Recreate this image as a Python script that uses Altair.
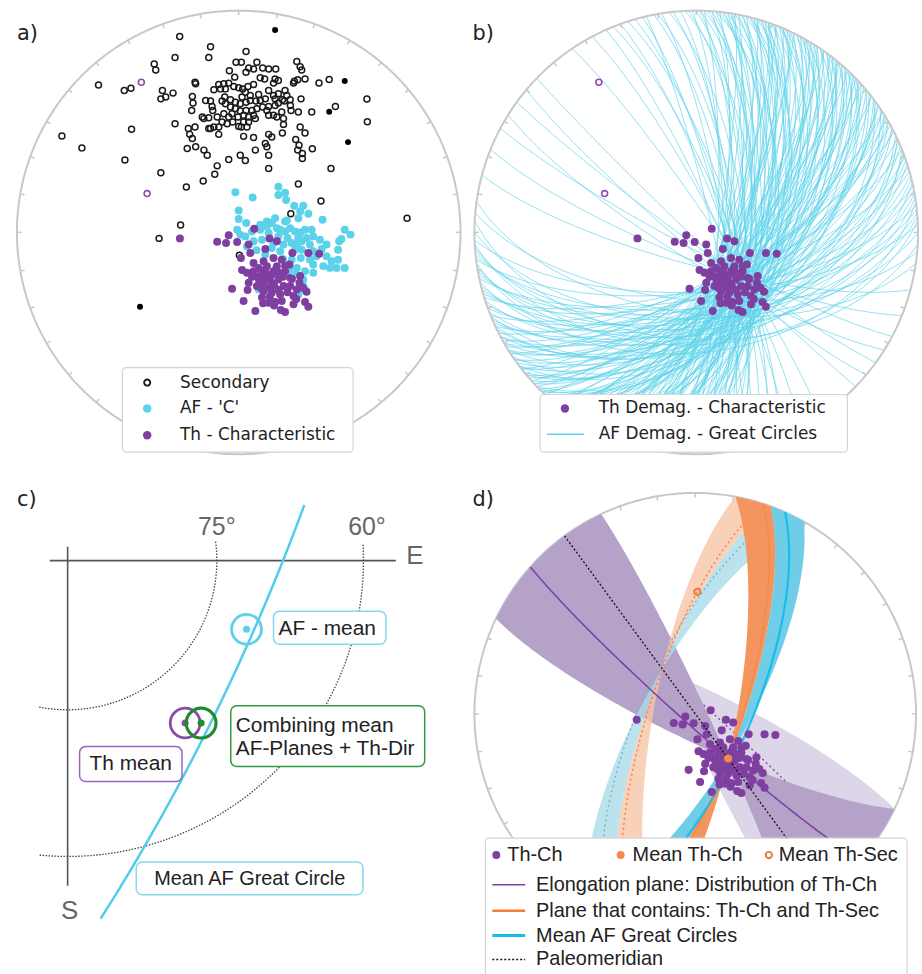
import numpy as np
import pandas as pd
import altair as alt

alt.data_transformers.disable_max_rows()

# ============================ DATA ============================
# Equal-area (Schmidt) net coordinates, unit primitive radius (x = East, y = North)

# a) Secondary directions, open symbols (upper hemisphere)
sec_open = [
    (-0.266, 0.883), (-0.127, 0.837), (-0.381, 0.759), (-0.374, 0.732), (-0.632, 0.665), (-0.516, 0.640),
    (-0.486, 0.650), (-0.797, 0.435), (-0.707, 0.381), (-0.513, 0.326), (-0.483, 0.465), (-0.351, 0.269),
    (-0.236, 0.205), (-0.160, 0.232), (-0.108, 0.262), (-0.097, 0.300), (-0.045, 0.329), (0.030, 0.324),
    (0.135, 0.288), (0.269, 0.218), (0.371, 0.142), (0.235, 0.084), (-0.359, -0.027), (-0.262, 0.033),
    (0.003, -0.103), (0.759, 0.064), (0.578, 0.601), (0.580, 0.499), (0.408, 0.689), (0.362, 0.674),
    (0.436, 0.568), (0.329, 0.543), (0.416, 0.288), (0.287, 0.333), (0.332, 0.377),
    (-0.287, 0.789), (-0.135, 0.789), (0.033, 0.816), (-0.012, 0.767), (0.012, 0.767), (0.082, 0.767),
    (0.045, 0.741), (0.033, 0.722), (0.067, 0.737), (0.108, 0.741), (0.135, 0.737), (0.167, 0.737),
    (0.262, 0.771), (0.277, 0.747), (0.284, 0.732), (-0.042, 0.729), (-0.018, 0.700), (0.097, 0.697),
    (0.117, 0.692), (0.164, 0.692), (0.157, 0.673), (0.179, 0.685), (0.251, 0.682), (0.266, 0.688),
    (0.247, 0.673), (0.299, 0.692), (-0.197, 0.677), (-0.194, 0.670), (-0.090, 0.667), (-0.067, 0.670),
    (-0.045, 0.673), (-0.112, 0.643), (-0.082, 0.647), (-0.060, 0.647), (-0.022, 0.658), (0.000, 0.652),
    (0.018, 0.647), (0.042, 0.658), (0.067, 0.667), (0.030, 0.632), (0.015, 0.610), (0.052, 0.617),
    (0.090, 0.622), (0.135, 0.640), (0.157, 0.617), (0.179, 0.625), (0.209, 0.640), (0.217, 0.617),
    (0.232, 0.598), (0.197, 0.598), (0.164, 0.602), (0.120, 0.602), (0.097, 0.595), (0.078, 0.592),
    (0.052, 0.595), (0.033, 0.587), (0.007, 0.580), (-0.015, 0.587), (-0.037, 0.598), (-0.063, 0.610),
    (-0.075, 0.592), (-0.060, 0.580), (-0.037, 0.565), (-0.015, 0.558), (0.007, 0.547), (0.033, 0.550),
    (0.060, 0.550), (0.082, 0.558), (0.108, 0.565), (0.135, 0.568), (0.164, 0.572), (0.179, 0.583),
    (0.206, 0.592), (0.233, 0.572), (0.281, 0.602), (-0.209, 0.613), (-0.206, 0.583), (-0.212, 0.550),
    (-0.149, 0.595), (-0.127, 0.592), (-0.120, 0.568), (-0.117, 0.550), (-0.164, 0.520), (-0.157, 0.513),
    (-0.135, 0.517), (-0.097, 0.520), (-0.067, 0.535), (-0.045, 0.520), (-0.030, 0.535), (-0.003, 0.520),
    (0.022, 0.528), (0.045, 0.520), (0.067, 0.528), (0.075, 0.513), (0.045, 0.498), (0.022, 0.498),
    (0.000, 0.478), (0.012, 0.475), (0.037, 0.475), (-0.027, 0.498), (-0.052, 0.490), (-0.075, 0.498),
    (-0.090, 0.475), (-0.112, 0.475), (-0.127, 0.468), (0.127, 0.550), (0.135, 0.528), (0.157, 0.528),
    (0.194, 0.543), (0.172, 0.520), (0.202, 0.513), (0.202, 0.487), (0.236, 0.550), (0.269, 0.543),
    (-0.287, 0.490), (-0.227, 0.468), (-0.197, 0.475), (-0.221, 0.442), (-0.209, 0.423), (-0.135, 0.468),
    (-0.090, 0.442), (0.022, 0.433), (0.067, 0.428), (0.135, 0.442), (0.149, 0.430), (0.197, 0.448),
    (0.277, 0.475), (0.299, 0.448), (0.120, 0.401), (0.127, 0.386), (0.257, 0.419), (0.272, 0.393),
    (-0.232, 0.378), (-0.194, 0.386), (-0.157, 0.371), (-0.142, 0.348), (0.007, 0.348), (0.075, 0.371),
    (0.135, 0.348), (0.266, 0.371), (0.287, 0.356), (-0.344, 0.640), (-0.329, 0.610), (-0.351, 0.602),
    (-0.296, 0.628),
]
# a) Secondary directions, filled symbols (lower hemisphere)
sec_lower = [(0.164, 0.913), (0.478, 0.683), (0.408, 0.544), (0.493, 0.407), (-0.445, -0.335)]

# a) AF - 'C' directions
af_c = [
    (-0.015, 0.181), (0.063, 0.157), (0.179, 0.206), (0.179, 0.169), (0.209, 0.179), (0.214, 0.146),
    (0.250, 0.120), (0.277, 0.094), (0.291, 0.120), (0.314, 0.084), (0.269, 0.064), (0.217, 0.054),
    (0.000, 0.099), (0.000, 0.060), (0.034, 0.042), (-0.007, 0.012), (0.007, -0.010), (0.030, -0.018),
    (0.060, 0.004), (0.097, 0.012), (0.127, 0.027), (0.149, 0.042), (0.172, 0.019), (0.187, 0.012),
    (0.209, 0.004), (0.232, 0.019), (0.254, 0.004), (0.277, 0.000), (0.299, 0.012), (0.329, 0.012),
    (0.336, -0.018), (0.306, -0.025), (0.284, -0.040), (0.262, -0.055), (0.239, -0.048), (0.220, -0.025),
    (0.202, -0.055), (0.254, -0.078), (0.284, -0.078), (0.321, -0.055), (0.366, -0.033), (0.396, -0.055),
    (0.374, -0.075), (0.336, -0.085), (0.280, -0.115), (0.321, -0.123), (0.336, -0.145), (0.381, -0.152),
    (0.411, -0.160), (0.441, -0.160), (0.478, -0.160), (0.448, -0.123), (0.448, -0.078), (0.453, -0.040),
    (0.463, -0.030), (0.478, 0.012), (0.504, -0.010), (0.378, 0.057), (0.336, -0.182), (0.299, -0.175),
    (0.291, -0.212), (0.269, -0.280), (0.262, -0.160), (0.239, -0.123), (0.067, -0.040), (0.105, -0.033),
    (0.037, -0.063), (0.149, -0.070), (0.187, -0.085), (0.299, -0.257), (0.090, -0.257), (0.291, -0.242),
    (0.209, 0.049), (0.164, 0.064), (0.127, 0.049), (0.097, 0.034), (0.135, -0.003), (0.157, -0.048),
    (0.179, -0.018), (0.269, -0.025), (0.351, -0.108), (0.396, -0.108), (0.419, -0.130), (0.200, -0.120),
    (0.230, -0.170), (0.260, -0.190), (0.120, -0.100), (0.080, -0.080),
]

# a, b, d) Th - Characteristic directions (lower hemisphere)
th_ch = [
    (-0.265, -0.027), (-0.097, -0.042), (-0.045, -0.013), (-0.057, -0.048), (-0.007, -0.043), (0.045, -0.055),
    (0.070, 0.016), (0.139, -0.027), (0.172, -0.040), (0.120, -0.075), (0.052, -0.093), (0.010, -0.115),
    (0.242, -0.093), (0.314, -0.093), (0.363, -0.096), (0.229, -0.145), (0.015, -0.170), (-0.030, -0.254),
    (0.022, -0.309), (0.075, -0.354), (0.135, -0.317), (0.164, -0.314), (0.209, -0.359), (0.247, -0.324),
    (0.299, -0.314), (0.314, -0.335), (0.306, -0.268), (0.262, -0.257), (0.274, -0.227), (0.232, -0.205),
    (0.209, -0.175), (0.157, -0.115), (0.112, -0.130), (0.067, -0.138), (0.037, -0.182), (0.045, -0.227),
    (0.082, -0.242), (0.112, -0.265), (0.149, -0.272), (0.187, -0.280), (0.202, -0.242), (0.179, -0.212),
    (0.142, -0.197), (0.105, -0.182), (0.075, -0.197), (0.127, -0.152), (0.172, -0.152), (0.194, -0.123),
    (0.149, -0.227), (0.112, -0.227), (0.232, -0.242), (0.247, -0.287), (0.277, -0.197), (0.105, -0.294),
    (0.194, -0.309), (0.067, -0.175), (0.179, -0.182), (0.135, -0.250), (0.157, -0.175), (0.090, -0.160),
    (0.209, -0.152), (0.120, -0.200), (0.160, -0.240), (0.130, -0.210), (0.150, -0.190), (0.180, -0.260),
    (0.100, -0.250), (0.140, -0.290), (0.200, -0.200), (0.090, -0.210), (0.170, -0.160), (0.120, -0.170),
    (0.220, -0.270), (0.060, -0.200), (0.240, -0.210), (0.110, -0.320), (0.160, -0.330), (0.260, -0.300),
    (0.290, -0.250), (0.040, -0.260), (0.190, -0.350),
]
# a, b) Th directions on the upper hemisphere (open purple)
th_upper = [(-0.439, 0.677), (-0.413, 0.175)]

# b) AF demagnetisation great circles: (strike, dip), right-hand rule
great_circles = [
    (0, 72), (2, 66), (4, 78), (5, 60), (7, 70), (8, 74), (10, 64), (11, 80), (12, 68), (14, 58), (15, 72),
    (16, 76), (18, 62), (19, 70), (20, 66), (21, 74), (22, 56), (23, 68), (24, 72), (25, 62), (26, 78),
    (27, 65), (28, 70), (29, 58), (30, 68), (31, 74), (32, 62), (33, 66), (34, 54), (35, 70), (36, 64),
    (37, 72), (38, 60), (39, 67), (40, 56), (41, 70), (42, 63), (43, 75), (44, 58), (45, 66), (46, 52),
    (47, 69), (48, 61), (50, 64), (51, 55), (52, 72), (54, 60), (55, 67), (56, 50), (58, 63), (59, 70),
    (60, 57), (3, 70), (6, 64), (9, 76), (13, 60), (17, 68), (19, 78), (24, 60), (26, 70), (28, 56),
    (31, 66), (33, 72), (36, 58), (38, 69), (41, 62), (43, 54), (46, 71), (49, 66), (53, 58), (57, 66),
    (61, 70), (62, 62), (64, 52), (65, 68), (67, 58), (68, 48), (70, 64), (72, 55), (73, 70), (75, 60),
    (77, 50), (78, 66), (80, 57), (82, 45), (84, 62), (86, 54), (88, 68), (90, 58), (93, 50), (95, 65),
    (98, 60),
    (1, 68), (5, 74), (8, 62), (12, 72), (14, 66), (16, 60), (18, 74), (20, 58), (22, 70), (23, 64),
    (25, 76), (27, 60), (29, 68), (30, 54), (32, 70), (34, 62), (35, 76), (37, 56), (39, 64), (40, 72),
    (42, 58), (44, 68), (45, 52), (47, 62), (48, 74), (50, 56), (52, 66), (53, 50), (55, 62), (57, 72),
    (58, 54), (60, 66), (62, 56), (63, 72), (65, 50), (66, 62), (68, 70), (69, 54), (71, 60), (74, 66),
    (76, 56), (79, 62), (81, 52), (83, 68), (85, 58), (87, 48),
    (105, 78), (112, 80), (118, 84), (122, 80), (126, 86), (130, 84), (134, 88),
    (326, 84), (332, 82), (338, 78), (342, 76), (346, 80), (350, 74), (354, 76), (358, 72),
    (336, 82), (340, 80), (344, 78), (347, 84), (349, 76), (351, 80), (353, 72), (356, 78), (357, 68),
    (359, 80), (1, 76), (2, 82), (4, 70), (6, 80), (7, 66), (9, 72), (10, 82), (11, 70), (13, 76),
    (15, 66), (16, 80), (17, 64), (19, 74), (21, 80), (23, 76),
]

# c) mean directions (declination, inclination)
mean_labels = ["AF - mean", "Th mean", "Combining mean"]
mean_dec = [111.0, 144.1, 140.6]
mean_inc = [70.7, 69.8, 68.8]
iso_inc = [75, 60]                  # dotted inclination circles
iso_az_from = [82.7, 86.9]
iso_az_to = [191.5, 185.6]
iso_labels = ["75°", "60°"]
mean_af_gc = (24.0, 70.0)           # strike, dip of the mean AF great circle
c_gc_y_range = (-0.444, 0.069)      # visible part of the circle in panel c

# d) means and planes
th_ch_mean = (143.7, 69.5)          # dec, inc
th_sec_mean = (1.0, -44.0)          # dec, inc (upper hemisphere)
fan_lo = {"elong": 295.5, "contains": 10.5, "afgc": 20.0}   # strike range of planes through Th-Ch mean
fan_hi = {"elong": 334.8, "contains": 20.0, "afgc": 29.5}
elong_strike = 311.7
contains_strike = 18.0
paleomeridian_strike = 323.7

legend_a = ["Secondary", "AF - 'C'", "Th - Characteristic"]
legend_b = ["Th Demag. - Characteristic", "AF Demag. - Great Circles"]
legend_d_top = ["Th-Ch", "Mean Th-Ch", "Mean Th-Sec"]
legend_d_lines = ["Elongation plane: Distribution of Th-Ch", "Plane that contains: Th-Ch and Th-Sec",
                  "Mean AF Great Circles", "Paleomeridian"]

# ============================ COLOURS / FONTS ============================
PURPLE = "#7e3fa1"
CYAN = "#5bd2e9"
GREY = "#c8c8c8"
FONT_A = "DejaVu Sans"
FONT_C = "Liberation Sans"
W, H_TOP, H_BOT = 461, 470, 504
ONE = pd.DataFrame({"k": [0]})


# ============================ GEOMETRY ============================
def dir_vec(dec, inc):
    d, i = np.radians(dec), np.radians(inc)
    return np.array([np.cos(i) * np.cos(d), np.cos(i) * np.sin(d), np.sin(i)])


def project(v):
    v = np.atleast_2d(v)
    hz = np.hypot(v[:, 0], v[:, 1])
    hz = np.where(hz < 1e-12, 1e-12, hz)
    r = np.sqrt(np.clip(1 - np.abs(v[:, 2]), 0, None))
    return r * v[:, 1] / hz, r * v[:, 0] / hz


def trace_hd(h, d, n=121):
    t = np.linspace(0, np.pi, n)
    v = np.outer(np.cos(t), h) + np.outer(np.sin(t), d)
    return project(v)


def plane_sd(strike, dip):
    s, dp = np.radians(strike), np.radians(dip)
    h = np.array([np.cos(s), np.sin(s), 0.0])
    dd = s + np.pi / 2
    d = np.array([np.cos(dp) * np.cos(dd), np.cos(dp) * np.sin(dd), np.sin(dp)])
    return h, d


def plane_axis(strike, m):
    s = np.radians(strike)
    h = np.array([np.cos(s), np.sin(s), 0.0])
    d = m - m.dot(h) * h
    return h, d / np.linalg.norm(d)


def fan_polygon(lo, hi, m):
    x1, y1 = trace_hd(*plane_axis(lo, m))
    x2, y2 = trace_hd(*plane_axis(hi, m))
    a1 = np.radians(np.linspace(lo + 180, hi + 180, 30))
    a2 = np.radians(np.linspace(hi, lo, 30))
    xs = np.concatenate([x1, np.sin(a1), x2[::-1], np.sin(a2)])
    ys = np.concatenate([y1, np.cos(a1), y2[::-1], np.cos(a2)])
    return xs, ys


# ============================ CHART HELPERS ============================
def scales(cx, cy, R, H):
    return (alt.Scale(domain=[-cx / R, (W - cx) / R], nice=False, zero=False),
            alt.Scale(domain=[-(H - cy) / R, cy / R], nice=False, zero=False))


def enc(sx, sy):
    return dict(x=alt.X("x:Q", scale=sx, axis=None), y=alt.Y("y:Q", scale=sy, axis=None))


def points(pairs, sx, sy, **mk):
    arr = np.array(pairs, dtype=float)
    df = pd.DataFrame({"x": arr[:, 0], "y": arr[:, 1]})
    mk.setdefault("opacity", 1)
    return alt.Chart(df).mark_point(shape="circle", **mk).encode(**enc(sx, sy))


def curve_df(traces):
    frames = []
    for g, (xs, ys) in enumerate(traces):
        frames.append(pd.DataFrame({"x": xs, "y": ys, "gid": g, "k": np.arange(len(xs))}))
    return pd.concat(frames, ignore_index=True)


def curves(traces, sx, sy, **mk):
    return alt.Chart(curve_df(traces)).mark_line(**mk).encode(
        detail="gid:N", order="k:Q", **enc(sx, sy))


def primitive(sx, sy):
    az = np.radians(np.arange(0, 361, 1.0))
    circ = curves([(np.sin(az), np.cos(az))], sx, sy, color=GREY, strokeWidth=2)
    ta = np.radians(np.arange(0, 360, 10.0))
    tdf = pd.DataFrame({"x": np.sin(ta), "y": np.cos(ta),
                        "x2": 0.98 * np.sin(ta), "y2": 0.98 * np.cos(ta)})
    ticks = alt.Chart(tdf).mark_rule(color=GREY, strokeWidth=1.5).encode(
        x2="x2:Q", y2="y2:Q", **enc(sx, sy))
    return [circ, ticks]


def box(x1, y1, x2, y2, stroke="#d4d4d4", sw=1.2, r=4):
    return alt.Chart(ONE).mark_rect(fill="white", stroke=stroke, strokeWidth=sw, cornerRadius=r).encode(
        x=alt.value(x1), x2=alt.value(x2), y=alt.value(y1), y2=alt.value(y2))


def label(txt, x, y, size, font, color="#222222", baseline="middle", align="left"):
    return alt.Chart(ONE).mark_text(text=txt, align=align, baseline=baseline, font=font,
                                    fontSize=size, color=color).encode(x=alt.value(x), y=alt.value(y))


def sym(x, y, size, filled, color, sw=1.5):
    return alt.Chart(ONE).mark_point(shape="circle", filled=filled, size=size, color=color,
                                     strokeWidth=sw, opacity=1).encode(x=alt.value(x), y=alt.value(y))


def seg(x1, x2, y, color, sw, dash=None):
    kw = dict(color=color, strokeWidth=sw)
    if dash:
        kw["strokeDash"] = dash
    return alt.Chart(ONE).mark_rule(**kw).encode(x=alt.value(x1), x2=alt.value(x2), y=alt.value(y))


def vseg(x, y1, y2, color, sw):
    return alt.Chart(ONE).mark_rule(color=color, strokeWidth=sw).encode(
        x=alt.value(x), y=alt.value(y1), y2=alt.value(y2))


# ============================ PANEL a ============================
sxa, sya = scales(240, 231, 223, H_TOP)
layers_a = primitive(sxa, sya) + [
    points(sec_open, sxa, sya, filled=False, color="#1a1a1a", size=36, strokeWidth=1.5),
    points(sec_lower, sxa, sya, filled=True, color="#000000", size=36),
    points(th_upper, sxa, sya, filled=False, color="#8c4db0", size=36, strokeWidth=1.6),
    points(af_c, sxa, sya, filled=True, color=CYAN, size=64),
    points(th_ch, sxa, sya, filled=True, color=PURPLE, size=64),
    box(123, 367, 355, 452),
    sym(148, 382, 38, False, "#1a1a1a", 1.9),
    sym(148, 408, 72, True, CYAN),
    sym(148, 435, 72, True, PURPLE),
    label(legend_a[0], 181, 382, 17, FONT_A),
    label(legend_a[1], 181, 408, 17, FONT_A),
    label(legend_a[2], 181, 435, 17, FONT_A),
    label("a)", 17, 38, 21, FONT_A, baseline="alphabetic"),
]
panel_a = alt.layer(*layers_a).properties(width=W, height=H_TOP)

# ============================ PANEL b ============================
sxb, syb = scales(239, 231, 223, H_TOP)
gc_traces = [trace_hd(*plane_sd(s, d)) for s, d in great_circles]
layers_b = [curves(gc_traces, sxb, syb, color="#5dd3ea", strokeWidth=0.85, opacity=0.8)] + primitive(sxb, syb) + [
    points(th_upper, sxb, syb, filled=False, color="#8c4db0", size=36, strokeWidth=1.6),
    points(th_ch, sxb, syb, filled=True, color=PURPLE, size=64),
    box(82, 394, 391, 452),
    sym(107, 408, 72, True, PURPLE),
    seg(89, 126, 434, "#5dd3ea", 1.5),
    label(legend_b[0], 141, 408, 17, FONT_A),
    label(legend_b[1], 141, 434, 17, FONT_A),
    label("b)", 14, 38, 21, FONT_A, baseline="alphabetic"),
]
panel_b = alt.layer(*layers_b).properties(width=W, height=H_TOP)

# ============================ PANEL c ============================
sxc, syc = scales(68, 91, 812.6, H_BOT)
iso_traces = []
for inc, a0, a1 in zip(iso_inc, iso_az_from, iso_az_to):
    r = np.sqrt(1 - np.sin(np.radians(inc)))
    az = np.radians(np.linspace(a0, a1, 80))
    iso_traces.append((r * np.sin(az), r * np.cos(az)))
gx, gy = trace_hd(*plane_sd(*mean_af_gc), n=600)
keep = (gy >= c_gc_y_range[0]) & (gy <= c_gc_y_range[1])
mx, my = project(np.array([dir_vec(d, i) for d, i in zip(mean_dec, mean_inc)]))
ring_cols = ["#5ccfe9", "#8a4aaa", "#1e8c2e"]
layers_c = [
    seg(50, 398, 91, "#555555", 1.6),
    vseg(68, 77, 418, "#555555", 1.6),
    curves(iso_traces, sxc, syc, color="#444444", strokeWidth=1.3, strokeDash=[1.5, 1.5]),
    curves([(gx[keep], gy[keep])], sxc, syc, color="#4fcdea", strokeWidth=2.5),
]
for j in [0, 1, 2]:
    layers_c.append(points([(mx[j], my[j])], sxc, syc, filled=False, color=ring_cols[j], size=900,
                           strokeWidth=3.2 if j == 2 else 2.8))
    layers_c.append(points([(mx[j], my[j])], sxc, syc, filled=True, color=ring_cols[j], size=50))
layers_c += [
    box(275, 142, 388, 175, stroke="#86d9ef", sw=1.5, r=6),
    box(232, 237, 427, 298, stroke="#2e9b3e", sw=1.5, r=6),
    box(80, 278, 183, 313, stroke="#9b64bb", sw=1.5, r=6),
    box(137, 394, 365, 427, stroke="#86d9ef", sw=1.5, r=6),
    label(mean_labels[0], 280, 160, 21, FONT_C),
    label(mean_labels[2], 237, 257, 21, FONT_C),
    label("AF-Planes + Th-Dir", 237, 280, 21, FONT_C),
    label(mean_labels[1], 90, 296, 21, FONT_C),
    label("Mean AF Great Circle", 155, 411, 20, FONT_C),
    label(iso_labels[0], 218, 57, 25, FONT_C, color="#666666", align="center"),
    label(iso_labels[1], 369, 57, 25, FONT_C, color="#666666", align="center"),
    label("E", 417, 86, 26, FONT_C, color="#666666", align="center"),
    label("S", 70, 443, 26, FONT_C, color="#666666", align="center"),
    label("c)", 17, 36, 21, FONT_A, baseline="alphabetic"),
]
panel_c = alt.layer(*layers_c).properties(width=W, height=H_BOT)

# ============================ PANEL d ============================
CXD, CYD, RD = 238, 245, 222
sxd, syd = scales(CXD, CYD, RD, H_BOT)
m = dir_vec(*th_ch_mean)


def geo(xs, ys, color, op=1.0):
    coords = [[round(float(a), 5), round(float(b), 5)] for a, b in zip(xs, ys)]
    coords.append(coords[0])
    feat = {"type": "Feature", "properties": {},
            "geometry": {"type": "Polygon", "coordinates": [coords]}}
    return alt.Chart(alt.Data(values=[feat])).mark_geoshape(
        fill=color, fillOpacity=op, strokeWidth=0).project(
        type="identity", scale=RD, translate=[CXD, CYD], reflectY=True)


fans = {k: fan_polygon(fan_lo[k], fan_hi[k], m) for k in fan_lo}
el_x, el_y = trace_hd(*plane_axis(elong_strike, m))
co_x, co_y = trace_hd(*plane_axis(contains_strike, m))
af_x, af_y = trace_hd(*plane_sd(*mean_af_gc))
pm_x, pm_y = trace_hd(*plane_sd(paleomeridian_strike, 90))
tm_x, tm_y = project(m)
ts_x, ts_y = project(dir_vec(*th_sec_mean))

layers_d = primitive(sxd, syd) + [
    geo(-fans["elong"][0], -fans["elong"][1], "#ddd5e8"),
    curves([(-el_x, -el_y)], sxd, syd, color=PURPLE, strokeWidth=1.3, strokeDash=[2, 3]),
    geo(fans["elong"][0], fans["elong"][1], "#b4a2c9"),
    geo(-fans["afgc"][0], -fans["afgc"][1], "#a9dcea", 0.8),
    geo(-fans["contains"][0], -fans["contains"][1], "#f8c6a8", 0.8),
    curves([(-co_x, -co_y)], sxd, syd, color="#f2834a", strokeWidth=1.5, strokeDash=[2, 3]),
    curves([(-af_x, -af_y)], sxd, syd, color="#7fb4c8", strokeWidth=1.5, strokeDash=[2, 3]),
    geo(fans["afgc"][0], fans["afgc"][1], "#6fcde8"),
    geo(fans["contains"][0], fans["contains"][1], "#f4945e"),
    curves([(el_x, el_y)], sxd, syd, color="#7a3ea5", strokeWidth=1.5),
    curves([(co_x, co_y)], sxd, syd, color="#f58a4b", strokeWidth=1.5),
    curves([(af_x, af_y)], sxd, syd, color="#19bdea", strokeWidth=2.2),
    points(th_ch, sxd, syd, filled=True, color=PURPLE, size=66),
    curves([(pm_x, pm_y)], sxd, syd, color="#111111", strokeWidth=1.3, strokeDash=[2, 2]),
    points([(tm_x[0], tm_y[0])], sxd, syd, filled=True, color="#f4894a", size=66),
    points([(ts_x[0], ts_y[0])], sxd, syd, filled=False, color="#f07a3a", size=40, strokeWidth=2),
    box(27, 370, 451, 508),
    sym(38, 387, 64, True, PURPLE),
    sym(163, 387, 64, True, "#f4894a"),
    sym(312, 387, 40, False, "#f07a3a", 2),
    label(legend_d_top[0], 49, 387, 20, FONT_C),
    label(legend_d_top[1], 175, 387, 20, FONT_C),
    label(legend_d_top[2], 322, 387, 20, FONT_C),
    seg(34, 67, 417, "#7a3ea5", 1.5),
    seg(34, 67, 443, "#f57c36", 2.5),
    seg(34, 67, 468, "#19bdea", 3),
    seg(34, 67, 492, "#111111", 1.5, [2, 2]),
    label(legend_d_lines[0], 78, 417, 20, FONT_C),
    label(legend_d_lines[1], 78, 443, 20, FONT_C),
    label(legend_d_lines[2], 78, 468, 20, FONT_C),
    label(legend_d_lines[3], 78, 492, 20, FONT_C),
    label("d)", 14, 36, 21, FONT_A, baseline="alphabetic"),
]
panel_d = alt.layer(*layers_d).properties(width=W, height=H_BOT)

# ============================ LAYOUT ============================
chart = alt.concat(panel_a, panel_b, panel_c, panel_d, columns=2, spacing=0, bounds="flush").properties(
    padding=0, background="white").configure_view(strokeWidth=0)

chart.save("out.html", embed_options={"renderer": "svg", "actions": False})
